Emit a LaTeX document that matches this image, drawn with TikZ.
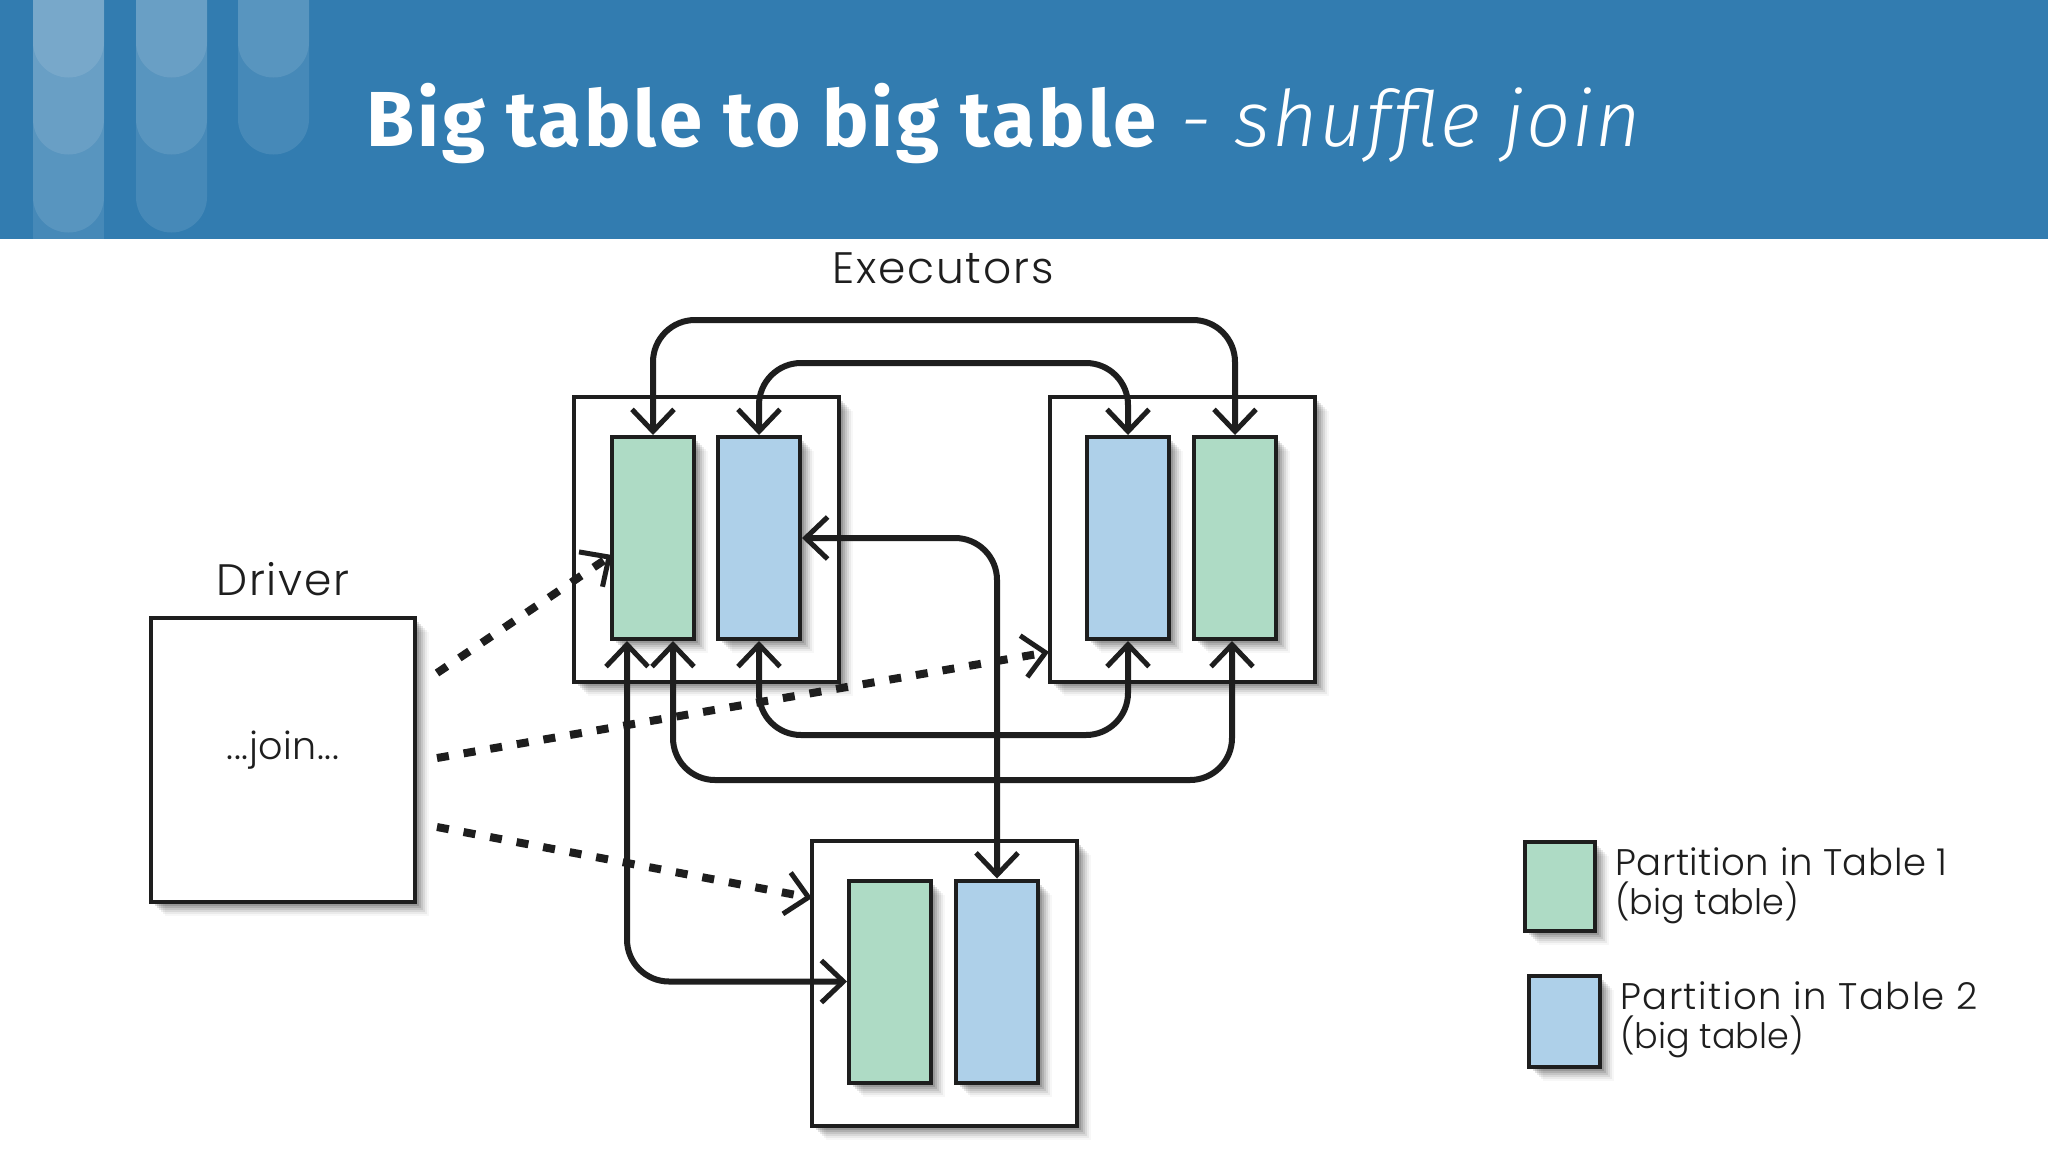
\documentclass[tikz,border=0pt]{standalone}
\usepackage{fontspec}
\usetikzlibrary{arrows.meta,shadows}
\setmainfont{Poppins}
\newfontfamily\handfont[UprightFont=* Light,LetterSpace=4]{Poppins}
\newfontfamily\legendfont[UprightFont=* Light,LetterSpace=1.5]{Poppins}
\newfontfamily\legendwidefont[UprightFont=* Light,LetterSpace=4]{Poppins}
\newfontfamily\legendplainfont[UprightFont=* Light]{Poppins}
\newfontfamily\ttlbold[UprightFont=* Bold,LetterSpace=3.7]{Fira Sans}
\newfontfamily\ttllight[UprightFont=* Light Italic,LetterSpace=2.4]{Fira Sans}
\definecolor{banner}{HTML}{327CB0}
\definecolor{pgreen}{HTML}{AEDBC5}
\definecolor{pblue}{HTML}{AED0E9}
\definecolor{ink}{HTML}{1E1E1E}
\newcommand{\lowerline}[1]{{\legendplainfont\fontsize{35}{39}\selectfont #1}}
\tikzset{
  softshadow/.style={
    general shadow={shadow xshift=2pt,shadow yshift=-2pt,fill=black,opacity=.14},
    general shadow={shadow xshift=4pt,shadow yshift=-4pt,fill=black,opacity=.13},
    general shadow={shadow xshift=6pt,shadow yshift=-6pt,fill=black,opacity=.11},
    general shadow={shadow xshift=8pt,shadow yshift=-8pt,fill=black,opacity=.09},
    general shadow={shadow xshift=10pt,shadow yshift=-10pt,fill=black,opacity=.07},
    general shadow={shadow xshift=12pt,shadow yshift=-12pt,fill=black,opacity=.05},
    general shadow={shadow xshift=14pt,shadow yshift=-14pt,fill=black,opacity=.03}},
  hostbox/.style={draw=ink,line width=4pt,fill=white,minimum width=265pt,minimum height=285pt,inner sep=0pt,softshadow},
  greenpart/.style={draw=ink,line width=4pt,fill=pgreen,minimum width=82pt,minimum height=202pt,inner sep=0pt,softshadow},
  bluepart/.style={draw=ink,line width=4pt,fill=pblue,minimum width=82pt,minimum height=202pt,inner sep=0pt,softshadow},
  link/.style={draw=ink,line width=6pt,rounded corners=42pt,{Straight Barb[length=22pt,width=42pt,line width=5pt]}-{Straight Barb[length=22pt,width=42pt,line width=5pt]}},
  order/.style={draw=ink,line width=8pt,dash pattern=on 12pt off 15pt,-{Straight Barb[length=22pt,width=42pt,line width=5pt]}},
  hand/.style={text=ink,inner sep=0pt,font=\handfont\fontsize{44}{48}\selectfont},
  legendtext/.style={text=ink,inner sep=0pt,align=left,anchor=west,font=\legendfont\fontsize{37}{39}\selectfont},
  pill/.style={fill=white,opacity=.1}
}
\begin{document}
\begin{tikzpicture}[x=1pt,y=-1pt]
\useasboundingbox (0,0) rectangle (2048,1152);
\fill[white] (0,0) rectangle (2048,1152);
\fill[banner] (0,0) rectangle (2048,239);
% header pills
\fill[pill] (33,0) rectangle (104,239);
\foreach \px/\pb in {33/77,33/154,33/232,136/77,136/154,136/232,238/77,238/154}{
  \fill[pill] (\px,0) -- (\px,\pb-35) arc[start angle=180,end angle=360,radius=35.5pt] -- (\px+71,0) -- cycle;
}
\node[anchor=base west,inner sep=0pt,text=white] (title) at (366,146)
  {\ttlbold\fontsize{78}{90}\selectfont Big table to big table\ttllight\ - shuffle join};

% executors
\node[hostbox] (execA) at (706,539.5) {};
\node[hostbox] (execB) at (1182,539.5) {};
\node[hostbox] (execC) at (944.5,983) {};
\node[hostbox,minimum width=264pt,minimum height=284pt] (driver) at (283,760) {};
\node[greenpart] (gA) at (653,538) {};
\node[bluepart] (bA) at (759,538) {};
\node[bluepart] (bB) at (1128,538) {};
\node[greenpart] (gB) at (1235,538) {};
\node[greenpart] (gC) at (890,981.5) {};
\node[bluepart] (bC) at (997,981.5) {};

\node[hand] (execlabel) at (943,268) {Executors};
\node[hand] (driverlabel) at (283,579) {Driver};
\node[hand,font=\legendfont\fontsize{38}{44}\selectfont] (joinlabel) at (283,750) {...join...};

% rails
\coordinate (railtop) at (900,320);
\coordinate (railinner) at (900,363);
\coordinate (railbottom) at (900,735);
\coordinate (railouter) at (900,780);

\draw[link] (gA.north) |- (railtop) -| (gB.north);
\draw[link] (bA.north) |- (railinner) -| (bB.north);
\draw[link] (bA.south) |- (railbottom) -| (bB.south);
\draw[link] ([xshift=20pt]gA.south) |- (railouter) -| ([xshift=-3pt]gB.south);
\draw[link] ([xshift=-26pt]gA.south) |- (gC.west);
\draw[link] (bA.east) -| (bC.north);

% driver orders
\coordinate (orderA) at (437,673);
\coordinate (orderB) at (437,758);
\coordinate (orderC) at (437,827);
\coordinate (hitA) at (612,555);
\coordinate (hitB) at (1049,652);
\coordinate (hitC) at (812,898);
\draw[order] (orderA) -- (hitA);
\draw[order] (orderB) -- (hitB);
\draw[order] (orderC) -- (hitC);

% legend
\node[greenpart,minimum width=70pt,minimum height=89pt] (legG) at (1559.5,886) {};
\node[bluepart,minimum width=71pt,minimum height=91pt] (legB) at (1564,1021) {};
\node[legendtext] (legGt) at (1615,886) {Partition in Table 1\\\lowerline{(big table)}};
\node[legendtext,font=\legendwidefont\fontsize{37}{39}\selectfont] (legBt) at (1620,1020) {Partition in Table 2\\\lowerline{(big table)}};
\end{tikzpicture}
\end{document}
